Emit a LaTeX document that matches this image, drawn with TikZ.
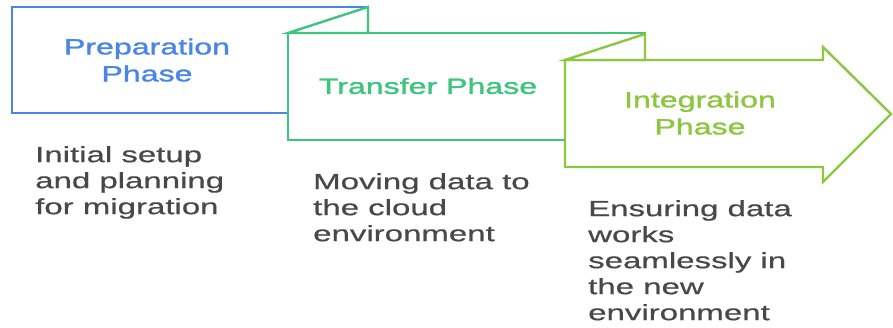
\documentclass[tikz,border=0pt]{standalone}
\usepackage{fontspec}
\setmainfont{Liberation Sans}
\newfontfamily\titlefont[FakeStretch=1.46,FakeBold=1.4]{Liberation Sans}
\newfontfamily\descfont[FakeStretch=1.5,FakeBold=0.6]{Liberation Sans}
\definecolor{prepblue}{RGB}{74,134,232}
\definecolor{transgreen}{RGB}{61,196,125}
\definecolor{integlime}{RGB}{141,198,63}
\definecolor{descgray}{RGB}{72,72,72}
\begin{document}
\begin{tikzpicture}[x=1pt,y=-1pt]
	\tikzstyle{phase shape} = [line width=2.4pt, fill=white, line join=miter]
	\tikzstyle{title node} = [font=\titlefont\fontsize{22}{27}\selectfont, align=center, inner sep=0pt]
	\tikzstyle{desc node} = [font=\descfont\fontsize{22}{26}\selectfont, text=descgray, align=left, anchor=north west, inner sep=0pt]
	\useasboundingbox (0,0) rectangle (893,327);
	\draw[phase shape, draw=prepblue] (12,7) rectangle (368,113);
	\draw[phase shape, draw=transgreen] (288,33) rectangle (645,140);
	\draw[phase shape, draw=transgreen] (288,33) -- (368,7) -- (368,33) -- cycle;
	\draw[phase shape, draw=integlime] (565,60) -- (823,60) -- (823,47) -- (891,114) -- (823,182) -- (823,167) -- (565,167) -- cycle;
	\draw[phase shape, draw=integlime] (565,60) -- (645,34) -- (645,60) -- cycle;
	\node[title node, text=prepblue] (prep) at (147,60) {Preparation\\Phase};
	\node[title node, text=transgreen] (transfer) at (428,86) {Transfer Phase};
	\node[title node, text=integlime] (integ) at (700,113) {Integration\\Phase};
	\node[desc node] (prepdesc) at (35,146) {Initial setup\\and planning\\for migration};
	\node[desc node] (transferdesc) at (313,173) {Moving data to\\the cloud\\environment};
	\node[desc node] (integdesc) at (588,200) {Ensuring data\\works\\seamlessly in\\the new\\environment};
\end{tikzpicture}
\end{document}
